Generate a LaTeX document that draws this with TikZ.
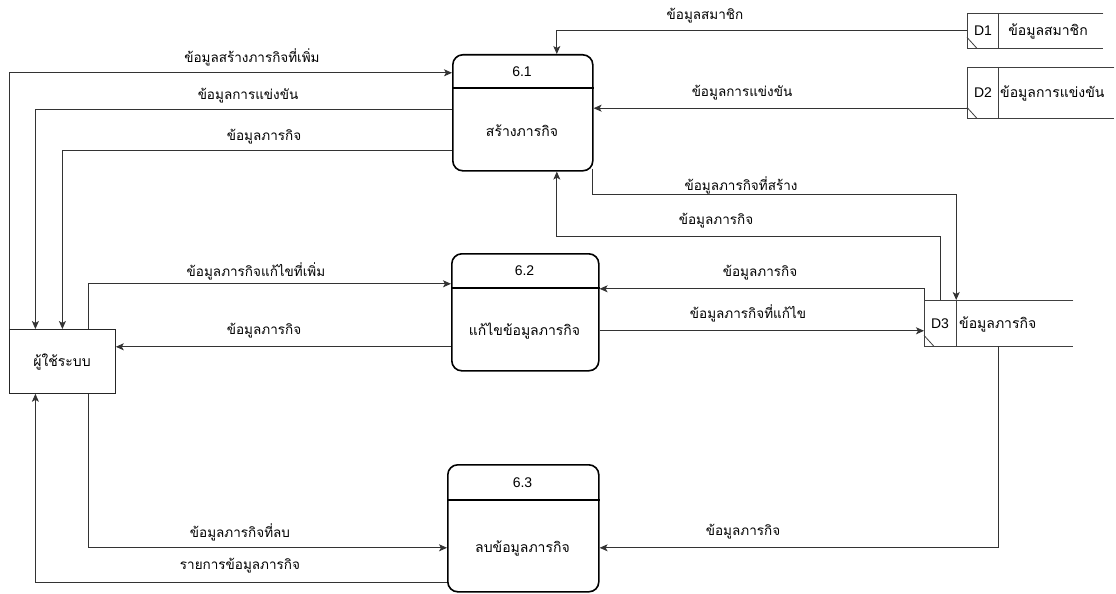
\documentclass[tikz,border=0pt]{standalone}
\usepackage{fontspec}
\setmainfont{Liberation Sans}
\newfontfamily\thaifont[Script=Thai]{Loma}
\usetikzlibrary{arrows.meta}
\begin{document}
\begin{tikzpicture}[x=1pt,y=-1pt,
  proc/.style={draw=black,line width=1.6pt,rounded corners=10pt,inner sep=0pt,anchor=north west},
  ent/.style={draw=black!85,line width=0.8pt,inner sep=0pt,anchor=north west},
  store/.style={inner sep=0pt,anchor=north west},
  sline/.style={draw=black!75,line width=0.8pt},
  flow/.style={draw=black!80,line width=0.8pt,-{Stealth[length=8pt,width=7pt,inset=2pt]}},
  lbl/.style={font=\thaifont\fontsize{13.5}{15}\selectfont,inner sep=1pt},
  txt/.style={font=\thaifont\fontsize{14}{16}\selectfont,inner sep=1pt},
  num/.style={font=\fontsize{14}{16}\selectfont,inner sep=1pt}]
\useasboundingbox[fill=white] (0,0) rectangle (1116,594);

% processes
\node[proc,minimum width=140pt,minimum height=116pt] (p1) at (452,54) {};
\node[proc,minimum width=147pt,minimum height=117pt] (p2) at (451,253) {};
\node[proc,minimum width=151pt,minimum height=127pt] (p3) at (447,464) {};
\draw[line width=1.6pt] ([yshift=-34pt]p1.north west) -- ([yshift=-34pt]p1.north east);
\draw[line width=1.6pt] ([yshift=-35pt]p2.north west) -- ([yshift=-35pt]p2.north east);
\draw[line width=1.6pt] ([yshift=-36pt]p3.north west) -- ([yshift=-36pt]p3.north east);
\node[num] (p1n) at (522,72) {6.1};
\node[txt] (p1t) at (522,131) {สร้างภารกิจ};
\node[num] (p2n) at (524.5,271) {6.2};
\node[txt] (p2t) at (524.5,331) {แก้ไขข้อมูลภารกิจ};
\node[num] (p3n) at (522.5,483) {6.3};
\node[txt] (p3t) at (522.5,548) {ลบข้อมูลภารกิจ};

% external entity
\node[ent,minimum width=106pt,minimum height=64pt] (user) at (9,329) {};
\node[txt] (usert) at (62,362) {ผู้ใช้ระบบ};

% data stores
\node[store,minimum width=136pt,minimum height=35pt] (d1) at (967,13) {};
\node[store,minimum width=147pt,minimum height=51pt] (d2) at (967,67) {};
\node[store,minimum width=149pt,minimum height=46pt] (d3) at (924,300) {};
\foreach \s/\d in {d1/31,d2/31,d3/32}{
  \draw[sline] (\s.north east) -- (\s.north west) -- (\s.south west) -- (\s.south east);
  \draw[sline] ([xshift=\d pt]\s.north west) -- ([xshift=\d pt]\s.south west);
  \draw[sline] ([yshift=11pt]\s.south west) -- ([xshift=10pt]\s.south west);
}
\node[num] (d1i) at (983,31) {D1};
\node[txt] (d1t) at (1048,31) {ข้อมูลสมาชิก};
\node[num] (d2i) at (983,93) {D2};
\node[txt,anchor=west] (d2t) at (999,93) {ข้อมูลการแข่งขัน};
\node[num] (d3i) at (940,324) {D3};
\node[txt,anchor=west] (d3t) at (958,324) {ข้อมูลภารกิจ};

% flows
\draw[flow] ([yshift=0.5pt]d1.west) -| ([xshift=34pt]p1.north);
\node[lbl] (l1) at (705,16) {ข้อมูลสมาชิก};
\draw[flow] ([yshift=-15.5pt]d2.west) -- ([yshift=-15.5pt]d2.west -| p1.east);
\node[lbl] (l2) at (742,93) {ข้อมูลการแข่งขัน};
\draw[flow] (user.north west) |- ([yshift=40pt]p1.west);
\node[lbl] (l3) at (252,57) {ข้อมูลสร้างภารกิจที่เพิ่ม};
\draw[flow] ([yshift=3pt]p1.west) -| ([xshift=-27pt]user.north);
\node[lbl] (l4) at (248,96) {ข้อมูลการแข่งขัน};
\draw[flow] ([yshift=-38pt]p1.west) -| (user.north);
\node[lbl] (l5) at (264,137) {ข้อมูลภารกิจ};
\draw[flow] ([xshift=-1pt,yshift=3pt]p1.south east) -- ++(0,26) -| ([xshift=-42.5pt]d3.north);
\node[lbl] (l6) at (741,185) {ข้อมูลภารกิจที่สร้าง};
\draw[flow] ([xshift=-58.5pt]d3.north) -- ++(0,-64) -| ([xshift=34pt]p1.south);
\node[lbl] (l7) at (716,221) {ข้อมูลภารกิจ};
\draw[flow] ([xshift=26pt]user.north) |- ([yshift=28.5pt]p2.west);
\node[lbl] (l8) at (256,271) {ข้อมูลภารกิจแก้ไขที่เพิ่ม};
\draw[flow] ([yshift=-34.5pt]p2.west) -- ([yshift=-34.5pt]p2.west -| user.east);
\node[lbl] (l9) at (264,331) {ข้อมูลภารกิจ};
\draw[flow] (d3.north west) |- ([yshift=23.5pt]p2.east);
\node[lbl] (l10) at (760,273) {ข้อมูลภารกิจ};
\draw[flow] ([yshift=-18.5pt]p2.east) -- ([yshift=-18.5pt]p2.east -| d3.west);
\node[lbl] (l11) at (748,313) {ข้อมูลภารกิจที่แก้ไข};
\draw[flow] (d3.south) |- ([yshift=-19.5pt]p3.east);
\node[lbl] (l12) at (743,532) {ข้อมูลภารกิจ};
\draw[flow] ([xshift=26pt]user.south) |- ([yshift=-19.5pt]p3.west);
\node[lbl] (l13) at (240,532) {ข้อมูลภารกิจที่ลบ};
\draw[flow] ([yshift=-54.5pt]p3.west) -| ([xshift=-27pt]user.south);
\node[lbl] (l14) at (240,566) {รายการข้อมูลภารกิจ};
\end{tikzpicture}
\end{document}
